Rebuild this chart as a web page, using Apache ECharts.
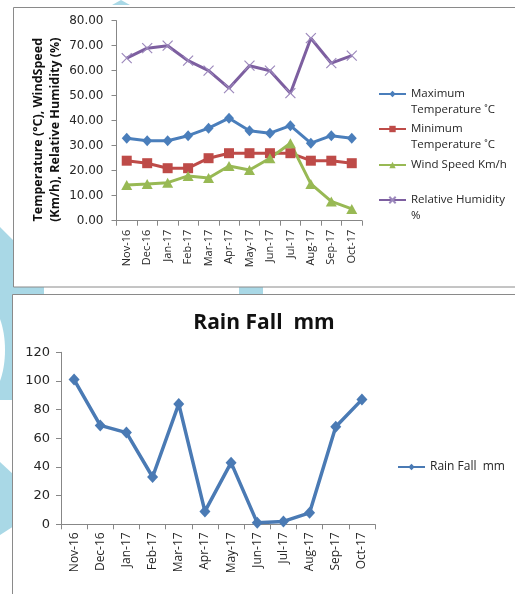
<!DOCTYPE html>
<html>
<head>
<meta charset="utf-8">
<script src="https://cdn.jsdelivr.net/npm/echarts@6/dist/echarts.min.js"></script>
<style>
  html, body { margin: 0; padding: 0; background: #ffffff; }
  #chart { width: 515px; height: 594px; }
</style>
</head>
<body>
<div id="chart"></div>
<script>
// Monthly weather record, Nov 2016 – Oct 2017
const categories = ['Nov-16', 'Dec-16', 'Jan-17', 'Feb-17', 'Mar-17', 'Apr-17',
                    'May-17', 'Jun-17', 'Jul-17', 'Aug-17', 'Sep-17', 'Oct-17'];
const maxTemperature = [33, 32, 32, 34, 37, 41, 36, 35, 38, 31, 34, 33];
const minTemperature = [24, 23, 21, 21, 25, 27, 27, 27, 27, 24, 24, 23];
const windSpeed = [14.3, 14.7, 15.2, 17.9, 17.1, 21.9, 20.3, 25.0, 31.0, 14.7, 7.7, 4.7];
const relativeHumidity = [65, 69, 70, 64, 60, 53, 62, 60, 51, 73, 63, 66];
const rainFall = [101, 69, 64, 33, 84, 9, 43, 1, 2, 8, 68, 87];

const weatherTicks = { min: 0, max: 80, interval: 10 };
const rainTicks = { min: 0, max: 120, interval: 20 };

const seriesNames = {
  maxT: 'Maximum\nTemperature \u02DAC',
  minT: 'Minimum\nTemperature \u02DAC',
  wind: 'Wind Speed Km/h',
  rh: 'Relative Humidity\n%',
  rain: 'Rain Fall  mm'
};

const FONT = "'Open Sans', 'DejaVu Sans', sans-serif";
const NUM_FONT = "'DejaVu Sans', sans-serif";
const TEXT = '#262626';
const AXIS = '#878787';
const DECOR = '#A9D8E6';

const chart = echarts.init(document.getElementById('chart'), null, { renderer: 'canvas' });

function catAxis(gridIndex, fontSize, margin) {
  return {
    type: 'category',
    gridIndex: gridIndex,
    data: categories,
    boundaryGap: true,
    axisLine: { lineStyle: { color: AXIS, width: 1 } },
    axisTick: { show: true, interval: 0, alignWithLabel: false, length: 5, lineStyle: { color: AXIS } },
    axisLabel: { interval: 0, rotate: 90, margin: margin, color: TEXT, fontFamily: FONT, fontSize: fontSize },
    splitLine: { show: false }
  };
}

function valAxis(gridIndex, ticks, fontSize, margin, formatter) {
  return {
    type: 'value',
    gridIndex: gridIndex,
    min: ticks.min, max: ticks.max, interval: ticks.interval,
    axisLine: { show: true, lineStyle: { color: AXIS, width: 1 } },
    axisTick: { show: true, length: 5, lineStyle: { color: AXIS } },
    axisLabel: { margin: margin, color: TEXT, fontFamily: NUM_FONT, fontSize: fontSize, formatter: formatter },
    splitLine: { show: false }
  };
}

// One legend block per entry; two-line entries keep their marker beside the first line
function legendFor(name, left, top, twoLine, fontSize) {
  return {
    orient: 'vertical',
    left: left, top: top,
    padding: 0,
    itemWidth: 27, itemHeight: 8,
    selectedMode: false,
    data: [name],
    formatter: twoLine ? (n => '\n' + n) : (n => n),
    textStyle: { color: TEXT, fontFamily: FONT, fontSize: fontSize, lineHeight: 16 }
  };
}

const option = {
  backgroundColor: '#ffffff',
  animation: false,
  graphic: { elements: [
    // light-blue page ornaments behind the two panels
    { type: 'polygon', z: -10, shape: { points: [[112, 5], [121, 0], [130, 5]] }, style: { fill: DECOR } },
    { type: 'polygon', z: -10, shape: { points: [[0, 227], [14, 241], [14, 287], [44, 287], [44, 295], [0, 295]] }, style: { fill: DECOR } },
    { type: 'polygon', z: -10, shape: { points: [[0, 295], [14, 295], [14, 400], [0, 400]] }, style: { fill: DECOR } },
    { type: 'ellipse', z: -10, shape: { cx: -16, cy: 350, rx: 21, ry: 48 }, style: { fill: '#ffffff' } },
    { type: 'polygon', z: -10, shape: { points: [[0, 462], [14, 475], [14, 526], [0, 535]] }, style: { fill: DECOR } },
    { type: 'rect', z: -10, shape: { x: 239, y: 287, width: 24, height: 7 }, style: { fill: DECOR } },
    // panel frames
    { type: 'rect', z: -9, shape: { x: 13.5, y: 7.5, width: 520, height: 279.5 }, style: { fill: '#ffffff', stroke: '#8a8a8a', lineWidth: 1 } },
    { type: 'rect', z: -9, shape: { x: 12.5, y: 294.5, width: 520, height: 320 }, style: { fill: '#ffffff', stroke: '#8a8a8a', lineWidth: 1 } }
  ] },
  title: {
    text: 'Rain Fall  mm',
    left: 259, top: 308, textAlign: 'center',
    textStyle: { color: '#111111', fontFamily: FONT, fontSize: 21, fontWeight: 'bold' }
  },
  legend: [
    legendFor(seriesNames.maxT, 378, 70, true, 11.5),
    legendFor(seriesNames.minT, 378, 105, true, 11.5),
    legendFor(seriesNames.wind, 378, 157, false, 11.5),
    legendFor(seriesNames.rh, 378, 176, true, 11.5),
    legendFor(seriesNames.rain, 397, 459, false, 12)
  ],
  grid: [
    { left: 116.5, top: 20.7, width: 245.5, height: 200, outerBoundsMode: 'none' },
    { left: 61, top: 352.3, width: 314, height: 172, outerBoundsMode: 'none' }
  ],
  xAxis: [catAxis(0, 11, 9), catAxis(1, 12, 8)],
  yAxis: [
    Object.assign(valAxis(0, weatherTicks, 12, 13, v => v.toFixed(2)), {
      name: 'Temperature (\u00B0C), WindSpeed\n(Km/h), Relative Humidity (%)',
      nameLocation: 'middle', nameRotate: 90, nameGap: 53,
      nameTextStyle: { color: '#111111', fontFamily: FONT, fontSize: 12.5, fontWeight: 'bold', lineHeight: 17, padding: [0, 18, 0, 0] }
    }),
    valAxis(1, rainTicks, 13, 11, v => String(v))
  ],
  series: [
    {
      name: seriesNames.maxT, type: 'line', xAxisIndex: 0, yAxisIndex: 0, data: maxTemperature,
      color: '#4A7EBB', symbol: 'diamond', symbolSize: [10, 11],
      lineStyle: { color: '#4A7EBB', width: 3 }, itemStyle: { color: '#4A7EBB', borderWidth: 0 }
    },
    {
      name: seriesNames.minT, type: 'line', xAxisIndex: 0, yAxisIndex: 0, data: minTemperature,
      color: '#BE4B48', symbol: 'rect', symbolSize: 10,
      lineStyle: { color: '#BE4B48', width: 3 }, itemStyle: { color: '#BE4B48', borderWidth: 0 }
    },
    {
      name: seriesNames.wind, type: 'line', xAxisIndex: 0, yAxisIndex: 0, data: windSpeed,
      color: '#98B954', symbol: 'triangle', symbolSize: [11, 10],
      lineStyle: { color: '#98B954', width: 3 }, itemStyle: { color: '#98B954', borderWidth: 0 }
    },
    {
      name: seriesNames.rh, type: 'line', xAxisIndex: 0, yAxisIndex: 0, data: relativeHumidity,
      color: '#7D5FA0', symbol: 'path://M0,0L10,10M0,10L10,0', symbolSize: 10,
      lineStyle: { color: '#7D5FA0', width: 3 },
      itemStyle: { color: '#9C88BC', borderColor: '#9C88BC', borderWidth: 1.2 }
    },
    {
      name: seriesNames.rain, type: 'line', xAxisIndex: 1, yAxisIndex: 1, data: rainFall,
      color: '#4A7AB4', symbol: 'diamond', symbolSize: [11, 12],
      lineStyle: { color: '#4A7AB4', width: 3.5 }, itemStyle: { color: '#4A7AB4', borderWidth: 0 }
    }
  ]
};

chart.setOption(option);
</script>
</body>
</html>
